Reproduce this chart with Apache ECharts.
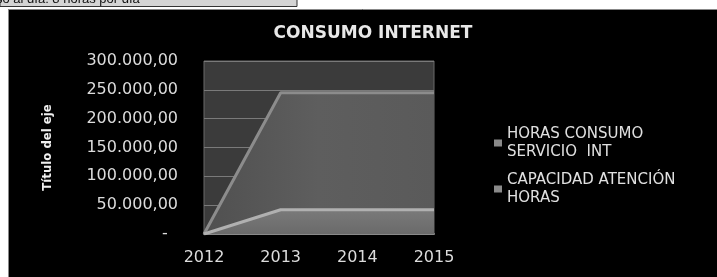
<!DOCTYPE html>
<html><head><meta charset="utf-8">
<script src="https://cdn.jsdelivr.net/npm/echarts@6/dist/echarts.min.js"></script>
<style>html,body{margin:0;padding:0;background:#fff}#c{width:717px;height:277px}</style>
</head><body><div id="c"></div>
<script>
var years = ['2012', '2013', '2014', '2015'];
var horasConsumo = [0, 42000, 42000, 42000];
var capacidadAtencion = [0, 245000, 245000, 245000];
var seriesNames = ['HORAS CONSUMO\nSERVICIO  INT', 'CAPACIDAD ATENCIÓN\nHORAS'];
var yTicks = {min: 0, max: 300000, interval: 50000};

function fmt(v) {
  if (v === 0) return '-  ';
  var s = String(Math.round(v)).replace(/\B(?=(\d{3})+(?!\d))/g, '.');
  return s + ',00';
}
var chart = echarts.init(document.getElementById('c'));
var font = '"DejaVu Sans", "Open Sans", sans-serif';
chart.setOption({
  backgroundColor: '#000',
  animation: false,
  title: {
    text: 'CONSUMO INTERNET', left: 368, top: 20, textAlign: 'center',
    textStyle: {color: '#e8e8e8', fontSize: 17, fontWeight: 'bold', fontFamily: font}
  },
  graphic: [
    {type: 'rect', shape: {x: 0, y: 0, width: 717, height: 9}, style: {fill: '#fff'}, z: 100},
    {type: 'rect', shape: {x: 0, y: 0, width: 8, height: 277}, style: {fill: '#fff'}, z: 100},
    {type: 'line', shape: {x1: 8, y1: 9.5, x2: 717, y2: 9.5}, style: {stroke: '#888', lineWidth: 1}, z: 101},
    {type: 'line', shape: {x1: 8.5, y1: 9, x2: 8.5, y2: 277}, style: {stroke: '#888', lineWidth: 1}, z: 101},
    {type: 'rect', shape: {x: 0, y: -1, width: 297, height: 7.5}, style: {fill: '#d4d4d4', stroke: '#333', lineWidth: 1}, z: 102},
    {type: 'text', x: -4, y: -7, style: {text: 'so al día: 8 horas por día', fill: '#111', font: '13px "Liberation Sans", Arial, sans-serif'}, z: 103}
  ],
  legend: {
    orient: 'vertical', left: 489, top: 120, itemWidth: 8, itemHeight: 7, itemGap: 10,
    data: [
      {name: seriesNames[0], icon: 'rect', itemStyle: {color: '#8a8a8a'}},
      {name: seriesNames[1], icon: 'rect', itemStyle: {color: '#8a8a8a'}}
    ],
    textStyle: {color: '#e0e0e0', fontSize: 15, fontFamily: font, lineHeight: 18}
  },
  grid: {left: 204, right: 283, top: 61, bottom: 43, show: true, backgroundColor: '#3b3b3b', borderColor: '#6a6a6a', borderWidth: 1},
  xAxis: {
    type: 'category', data: years, boundaryGap: false,
    axisLine: {show: true, lineStyle: {color: '#8a8a8a', width: 2}},
    axisTick: {show: false},
    axisLabel: {color: '#dcdcdc', fontSize: 16, margin: 16, fontFamily: font}
  },
  yAxis: {
    type: 'value', min: yTicks.min, max: yTicks.max, interval: yTicks.interval,
    name: 'Título del eje', nameLocation: 'middle', nameGap: 150,
    nameTextStyle: {color: '#f0f0f0', fontSize: 13, fontWeight: 'bold', fontFamily: '"Liberation Sans Narrow", "DejaVu Sans Condensed", sans-serif'},
    axisLine: {show: false}, axisTick: {show: false},
    axisLabel: {color: '#dcdcdc', fontSize: 16, margin: 26, fontFamily: font, formatter: fmt},
    splitLine: {lineStyle: {color: '#7a7a7a', width: 1}}
  },
  series: [
    {
      name: seriesNames[1], type: 'line', data: capacidadAtencion, symbol: 'none', z: 2,
      lineStyle: {color: '#8c8c8c', width: 3},
      areaStyle: {opacity: 1, color: {type: 'linear', x: 0, y: 0, x2: 1, y2: 0, colorStops: [{offset: 0, color: '#505050'}, {offset: 0.5, color: '#5e5e5e'}, {offset: 1, color: '#5a5a5a'}]}}
    },
    {
      name: seriesNames[0], type: 'line', data: horasConsumo, symbol: 'none', z: 3,
      lineStyle: {color: '#b0b0b0', width: 3},
      areaStyle: {opacity: 1, color: {type: 'linear', x: 0, y: 0, x2: 0, y2: 1, colorStops: [{offset: 0, color: '#7a7a7a'}, {offset: 1, color: '#6a6a6a'}]}}
    }
  ]
});
</script></body></html>
